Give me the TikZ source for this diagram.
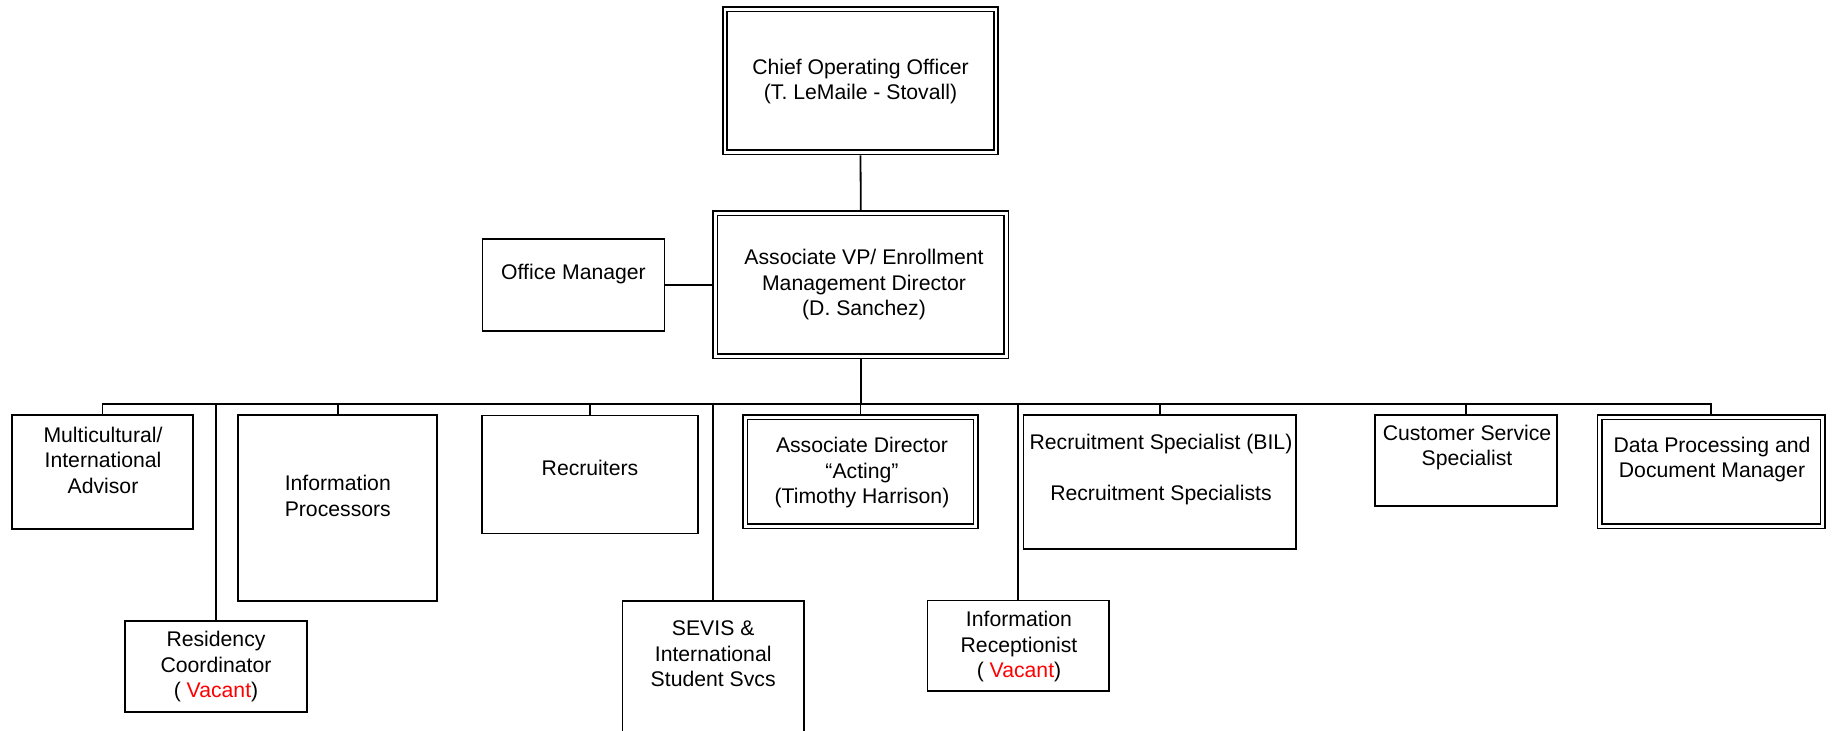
\documentclass[tikz,border=0pt]{standalone}
\usepackage{fontspec}
\setmainfont{Liberation Sans}
\begin{document}
\begin{tikzpicture}[x=0.5pt,y=-0.5pt,
  box/.style={draw, line width=0.85pt, rectangle, inner sep=0pt, outer sep=0pt},
  dbox/.style={draw, double, double distance=1.4pt, line width=0.8pt, rectangle, inner sep=0pt, outer sep=1.5pt},
  txt/.style={align=center, inner sep=0pt, font=\fontsize{10.6}{12.75}\selectfont},
  conn/.style={line width=0.85pt},
  mainconn/.style={line width=0.9pt},
  busline/.style={line width=0.95pt},
  trunk/.style={line width=1.2pt}]
\useasboundingbox (0,0) rectangle (1832,731);
\clip (0,0) rectangle (1832,731);

% top level
\node[dbox, minimum width=135.5pt, minimum height=71.5pt] (coo) at (860.5,81) {};
\node[txt] (tcoo) at (860.5,81.5) {Chief Operating Officer\\(T. LeMaile - Stovall)};

\node[dbox, minimum width=145.65pt, minimum height=71.5pt] (avp) at (860.8,285) {};
\node[txt] (tavp) at (864,285) {Associate VP/ Enrollment\\Management Director\\(D. Sanchez)};

\node[box, minimum width=91pt, minimum height=45.7pt] (om) at (573.5,285) {};
\node[txt] (tom) at (573.5,274) {Office Manager};

% children
\node[box, minimum width=90.8pt, minimum height=57pt] (multi) at (102.5,472) {};
\node[txt] (tmulti) at (103,460) {Multicultural/\\International\\Advisor};

\node[box, minimum width=90.85pt, minimum height=45.65pt] (res) at (216,666.7) {};
\node[txt] (tres) at (216,667) {Residency\\Coordinator\\( \textcolor{red}{Vacant})};

\node[box, minimum width=99.5pt, minimum height=92.85pt] (ip) at (337.8,507.9) {};
\node[txt] (tip) at (337.8,496) {Information\\Processors};

\node[box, minimum width=108pt, minimum height=59pt] (rec) at (590,474.4) {};
\node[txt] (trec) at (590,467.5) {Recruiters};

\node[box, minimum width=90.85pt, minimum height=74.65pt] (sevis) at (713.2,675.35) {};
\node[txt] (tsevis) at (713.2,654) {SEVIS \&\\International\\Student Svcs};

\node[dbox, minimum width=115.15pt, minimum height=54.5pt] (ad) at (860.6,472) {};
\node[txt] (tad) at (862,473) {Associate Director\\“Acting”\\(Timothy Harrison)};

\node[box, minimum width=90.85pt, minimum height=45.25pt] (ir) at (1018.2,645.8) {};
\node[txt] (tir) at (1019,646.7) {Information\\Receptionist\\( \textcolor{red}{Vacant})};

\node[box, minimum width=136.35pt, minimum height=67.15pt] (rs) at (1159.7,482.2) {};
\node[txt] (trs) at (1161,470) {Recruitment Specialist (BIL)\\[12.75pt]Recruitment Specialists};

\node[box, minimum width=90.85pt, minimum height=45.5pt] (cs) at (1465.8,460.5) {};
\node[txt] (tcs) at (1467,447.5) {Customer Service\\Specialist};

\node[dbox, minimum width=111.35pt, minimum height=54.5pt] (dp) at (1711.2,472) {};
\node[txt] (tdp) at (1712,459.7) {Data Processing and\\Document Manager};

% connectors
\coordinate (bus) at (860.8,404);
\draw[mainconn] (coo.south) -- (avp.north);
\draw[mainconn] (om.east) -- (avp.west);
\draw[trunk] (avp.south) -- (bus);
\draw[busline] (multi.north) -- (multi.north |- bus) -- (dp.north |- bus) -- (dp.north);
\foreach \c in {res, ip, rec, sevis, ad, ir, rs, cs}
  \draw[conn] (\c.north) -- (\c.north |- bus);
\end{tikzpicture}
\end{document}
